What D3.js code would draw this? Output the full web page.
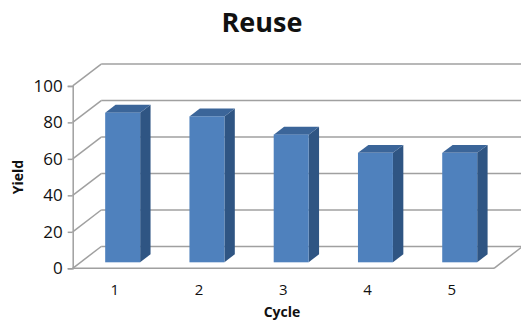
<!DOCTYPE html>
<html>
<head>
<meta charset="utf-8">
<script src="https://cdn.jsdelivr.net/npm/d3@7"></script>
<style>
  html, body { margin: 0; padding: 0; background: #fff; }
  svg { display: block; }
  text { font-family: "Open Sans", "Liberation Sans", sans-serif; fill: #111; }
</style>
</head>
<body>
<svg id="chart" width="521" height="320"></svg>
<script>
// Chart data
const categories = ["1", "2", "3", "4", "5"];
const yields = [82, 80, 70, 60, 60];
const yTicks = [0, 20, 40, 60, 80, 100];
const titleText = "Reuse";
const xTitle = "Cycle";
const yTitle = "Yield";

const svg = d3.select("#chart");

// Front plane of the 3D plot
const front = { left: 72.7, right: 494, bottom: 268.3, top: 85.9 };
// Oblique offset from the front plane to the back wall
const depth = { dx: 28.5, dy: -21.8 };
// Bars sit between these fractions of the depth
const barT0 = 0.275, barT1 = 0.64;

const x = d3.scaleBand()
  .domain(categories)
  .range([front.left, front.right])
  .paddingInner(0.585)
  .paddingOuter(0.2925);

const y = d3.scaleLinear().domain([0, 100]).range([front.bottom, front.top]);

const off = t => [depth.dx * t, depth.dy * t];

const grid = svg.append("g").attr("stroke", "#a0a0a0").attr("stroke-width", 1.5).attr("fill", "none");

// Back wall gridlines
grid.selectAll("line.back").data(yTicks).join("line")
  .attr("class", "back")
  .attr("x1", front.left + depth.dx).attr("x2", 521)
  .attr("y1", d => y(d) + depth.dy).attr("y2", d => y(d) + depth.dy);

// Side wall gridlines
grid.selectAll("line.side").data(yTicks).join("line")
  .attr("class", "side")
  .attr("x1", front.left).attr("y1", d => y(d))
  .attr("x2", front.left + depth.dx).attr("y2", d => y(d) + depth.dy);

// Floor front and right edges
grid.append("line")
  .attr("x1", front.left).attr("x2", front.right)
  .attr("y1", y(0)).attr("y2", y(0));
grid.append("line")
  .attr("x1", front.right).attr("y1", y(0))
  .attr("x2", front.right + depth.dx).attr("y2", y(0) + depth.dy);

// Bars as 3D boxes
const bars = svg.append("g");
const data = categories.map((c, i) => ({ c, v: yields[i] }));
const [ox0, oy0] = off(barT0);
const [ox1, oy1] = off(barT1);
const w = x.bandwidth();

const g = bars.selectAll("g.bar").data(data).join("g").attr("class", "bar");

// right side face
g.append("path")
  .attr("fill", "#2f5583")
  .attr("d", d => {
    const xr = x(d.c) + w;
    return `M${xr + ox0},${y(0) + oy0} L${xr + ox1},${y(0) + oy1} L${xr + ox1},${y(d.v) + oy1} L${xr + ox0},${y(d.v) + oy0} Z`;
  });
// top face
g.append("path")
  .attr("fill", "#3b6599")
  .attr("d", d => {
    const xl = x(d.c), xr = x(d.c) + w, yt = y(d.v);
    return `M${xl + ox0},${yt + oy0} L${xr + ox0},${yt + oy0} L${xr + ox1},${yt + oy1} L${xl + ox1},${yt + oy1} Z`;
  });
// front face
g.append("rect")
  .attr("fill", "#4f81bd")
  .attr("x", d => x(d.c) + ox0)
  .attr("y", d => y(d.v) + oy0)
  .attr("width", w)
  .attr("height", d => y(0) - y(d.v));

// Vertical axis on the front plane
const yAxis = svg.append("g")
  .attr("transform", `translate(${front.left},0)`)
  .call(d3.axisLeft(y).tickValues(yTicks).tickSize(5).tickPadding(5));
yAxis.select(".domain").attr("stroke", "#a0a0a0").attr("stroke-width", 1.5);
yAxis.selectAll(".tick line").attr("stroke", "#a0a0a0").attr("stroke-width", 1.5);
yAxis.selectAll(".tick text")
  .attr("font-size", 17)
  .attr("font-family", "'Open Sans', sans-serif")
  .attr("fill", "#111");

// Category labels
svg.append("g").selectAll("text").data(categories).join("text")
  .attr("x", d => x(d) + w / 2)
  .attr("y", 295)
  .attr("text-anchor", "middle")
  .attr("font-size", 15)
  .text(d => d);

// Titles
svg.append("text")
  .attr("x", 262).attr("y", 32)
  .attr("text-anchor", "middle")
  .attr("font-size", 27).attr("font-weight", "bold")
  .attr("font-family", "Lato, 'Open Sans', sans-serif")
  .text(titleText);

svg.append("text")
  .attr("x", 282).attr("y", 317)
  .attr("text-anchor", "middle")
  .attr("font-size", 14).attr("font-weight", "bold")
  .text(xTitle);

svg.append("text")
  .attr("transform", "translate(23,177) rotate(-90)")
  .attr("text-anchor", "middle")
  .attr("font-size", 14).attr("font-weight", "bold")
  .text(yTitle);
</script>
</body>
</html>
